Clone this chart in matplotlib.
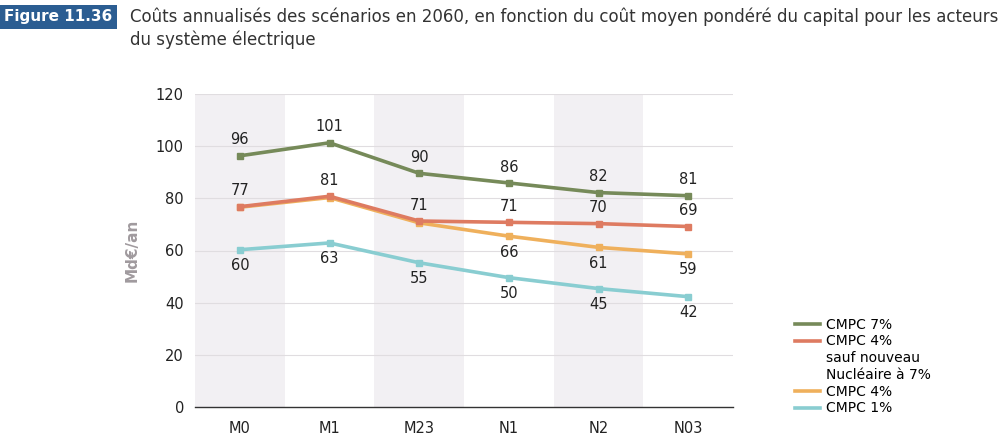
import matplotlib.pyplot as plt
from matplotlib.lines import Line2D
import numpy as np

# Data
scenarios = ["M0", "M1", "M23", "N1", "N2", "N03"]
cmpc7 = [96.3, 101.3, 89.6, 85.9, 82.2, 81.0]
cmpc4_nuc7 = [76.8, 80.8, 71.3, 70.8, 70.3, 69.2]
cmpc4 = [76.6, 80.3, 70.6, 65.5, 61.2, 58.7]
cmpc1 = [60.3, 62.9, 55.3, 49.6, 45.4, 42.3]

lab7 = ["96", "101", "90", "86", "82", "81"]
lab4n = ["77", "81", "71", "71", "70", "69"]
lab4 = ["", "", "", "66", "61", "59"]
lab1 = ["60", "63", "55", "50", "45", "42"]

c_green = "#768a59"
c_red = "#de7b61"
c_orange = "#efb05c"
c_cyan = "#89cdd1"
c_band = "#f2f0f3"

fig = plt.figure(figsize=(10.08, 4.47), dpi=100)
ax = fig.add_axes([195/1008, 1-407/447, (733-195)/1008, (407-94)/447])

x = np.arange(len(scenarios))
for i in x:
    if i % 2 == 0:
        ax.axvspan(i-0.5, i+0.5, color=c_band, lw=0, zorder=0)

for v in range(20, 121, 20):
    ax.axhline(v, color="#e0dde0", lw=0.8, zorder=1)

kw = dict(lw=2.6, marker="s", ms=5, zorder=3)
l1, = ax.plot(x, cmpc1, color=c_cyan, **kw)
l4, = ax.plot(x, cmpc4, color=c_orange, **kw)
l4n, = ax.plot(x, cmpc4_nuc7, color=c_red, **kw)
l7, = ax.plot(x, cmpc7, color=c_green, **kw)

tf = dict(fontsize=10.5, color="#222222", ha="center")
for i in x:
    ax.text(i, cmpc7[i] + 3.2, lab7[i], va="bottom", **tf)
    ax.text(i, cmpc4_nuc7[i] + 3.2, lab4n[i], va="bottom", **tf)
    if lab4[i]:
        ax.text(i, cmpc4[i] - 3.2, lab4[i], va="top", **tf)
    ax.text(i, cmpc1[i] - 3.2, lab1[i], va="top", **tf)

ax.set_xlim(-0.5, 5.5)
ax.set_ylim(0, 120)
ax.set_yticks(range(0, 121, 20))
ax.set_xticks(x)
ax.set_xticklabels(scenarios)
ax.tick_params(length=0, labelsize=10.5, colors="#222222")
ax.tick_params(axis="x", pad=10)
ax.tick_params(axis="y", pad=8)
for s in ["top", "right", "left"]:
    ax.spines[s].set_visible(False)
ax.spines["bottom"].set_color("#333333")
ax.spines["bottom"].set_linewidth(1.0)
ax.set_ylabel("Md€/an", fontsize=11, fontweight="bold", color="#a09a9e", labelpad=12)

# legend: the red entry's label runs over three lines, handle only on the first
blank = Line2D([], [], lw=0)
handles = [Line2D([], [], color=c_green, lw=2.6),
           Line2D([], [], color=c_red, lw=2.6), blank, blank,
           Line2D([], [], color=c_orange, lw=2.6),
           Line2D([], [], color=c_cyan, lw=2.6)]
labels = ["CMPC 7%", "CMPC 4%", "sauf nouveau", "Nucléaire à 7%", "CMPC 4%", "CMPC 1%"]
fig.legend(handles, labels, loc="lower left", bbox_to_anchor=(782/1008, 1-428/447),
           frameon=False, fontsize=10, handlelength=1.8,
           labelspacing=0.2, handletextpad=0.5)

fig.text(4/1008, 1-17/447, "Figure 11.36", fontsize=11, fontweight="bold", color="white",
         va="center", ha="left",
         bbox=dict(boxstyle="square,pad=0.28", fc="#2b5d92", ec="none"))
fig.text(130/1008, 1-17/447, "Coûts annualisés des scénarios en 2060, en fonction du coût moyen pondéré du capital pour les acteurs",
         fontsize=12, color="#333333", va="center", ha="left")
fig.text(130/1008, 1-40/447, "du système électrique",
         fontsize=12, color="#333333", va="center", ha="left")

fig.savefig("out.png", dpi=100)
